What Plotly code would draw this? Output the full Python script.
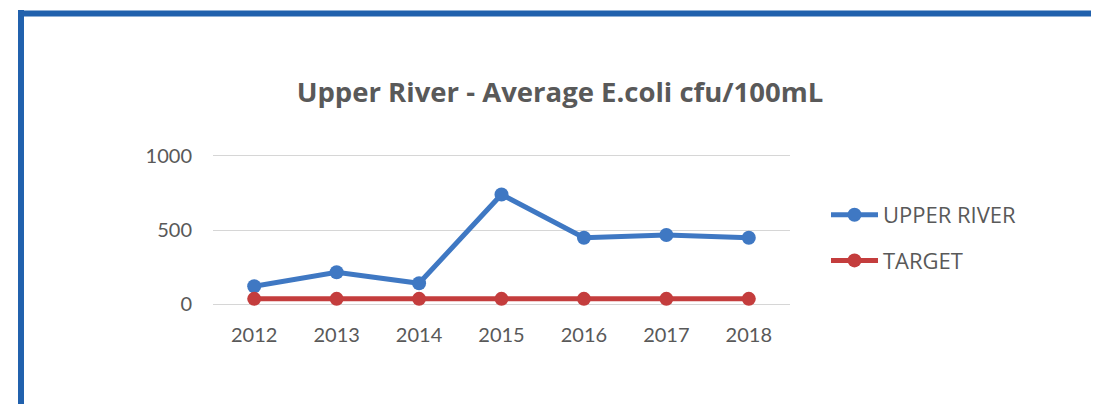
import plotly.graph_objects as go

years = ["2012", "2013", "2014", "2015", "2016", "2017", "2018"]
upper_river = [120, 215, 140, 740, 448, 466, 448]
target = [35, 35, 35, 35, 35, 35, 35]
y_ticks = [0, 500, 1000]

BLUE = "#3f78c3"
RED = "#c43d3d"
TXT = "#595959"
FONT = "Lato"

# page offset from the default 8px body margin
OFF = 8
PAD = 20  # extra y-range units so edge gridlines are drawn
W, H = 1099 - OFF, 404 - OFF
pxu = 148 / 1000.0
L, R = 213 - OFF, 1099 - 790
T = 156 - OFF - round(PAD * pxu)
B = 404 - 304 - round(PAD * pxu)
pw, ph = W - L - R, H - T - B

def px_x(px):
    return (px - OFF - L) / pw

def px_y(py):
    return (H - B - (py - OFF)) / ph

fig = go.Figure()
fig.add_trace(go.Scatter(
    x=years, y=upper_river, name="UPPER RIVER", mode="lines+markers",
    line=dict(color=BLUE, width=5), marker=dict(color=BLUE, size=14),
    legendgroup="a",
))
fig.add_trace(go.Scatter(
    x=years, y=target, name="TARGET", mode="lines+markers",
    line=dict(color=RED, width=5), marker=dict(color=RED, size=14),
    legendgroup="b",
))

border = "#2161ad"
fig.add_shape(type="line", xref="paper", yref="paper",
              x0=px_x(21), x1=px_x(21), y0=px_y(10), y1=px_y(430),
              line=dict(color=border, width=6))
fig.add_shape(type="line", xref="paper", yref="paper",
              x0=px_x(18), x1=px_x(1130), y0=px_y(13.5), y1=px_y(13.5),
              line=dict(color=border, width=6))

fig.update_layout(
    width=W, height=H,
    margin=dict(l=L, r=R, t=T, b=B, autoexpand=False),
    paper_bgcolor="white", plot_bgcolor="white",
    font=dict(family=FONT, color=TXT, size=20),
    title=dict(text="<b>Upper River - Average E.coli cfu/100mL</b>",
               x=px_x(560), xref="paper", xanchor="center",
               y=1 - (92 - OFF) / H, yref="container", yanchor="middle",
               font=dict(family="Open Sans", size=27.5, color=TXT)),
    xaxis=dict(type="category", range=[-0.5, 6.5], showgrid=False,
               showline=False, zeroline=False, ticks="",
               ticklabelstandoff=14,
               tickfont=dict(size=20, color=TXT)),
    yaxis=dict(range=[-PAD, 1000 + PAD], tickvals=y_ticks, showgrid=True,
               gridcolor="#d6d6d6", gridwidth=1, zeroline=False,
               showline=False, ticks="", ticklabelstandoff=20,
               tickfont=dict(size=20, color=TXT)),
    showlegend=True,
    legend=dict(x=px_x(826), y=px_y(194), xanchor="left", yanchor="top",
                tracegroupgap=14, itemwidth=47,
                font=dict(size=22, color=TXT, family="Open Sans"),
                bgcolor="rgba(0,0,0,0)"),
)

fig.write_html("out.html")
